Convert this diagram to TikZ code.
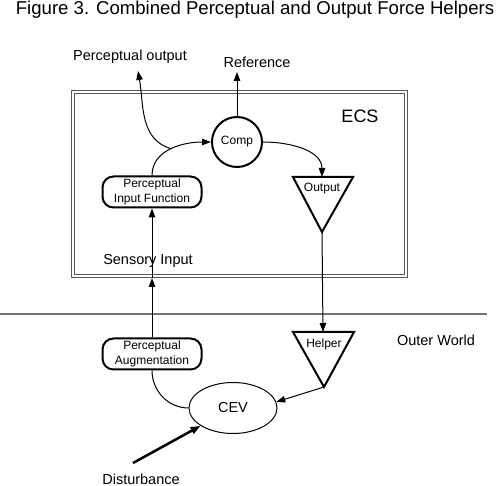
\documentclass[tikz,border=0pt]{standalone}
\usepackage{fontspec}
\setmainfont{Liberation Sans}
\usetikzlibrary{arrows.meta, shapes.geometric}

\tikzset{
  lbl/.style={font=\fontsize{14.5}{16}\selectfont, inner sep=0pt},
  small/.style={font=\fontsize{12}{14.5}\selectfont, align=center, inner sep=0pt},
  pbox/.style={draw, line width=2pt, rounded corners=11pt, minimum width=99pt,
    minimum height=31pt, align=center, font=\fontsize{12}{14.5}\selectfont, inner sep=0pt},
  link/.style={line width=1pt, -{Triangle[length=9pt,width=6.5pt]}},
  plain/.style={line width=1pt},
  tri/.style={line width=2pt, line join=miter}
}

\begin{document}
\begin{tikzpicture}[x=1pt, y=-1pt]
          \useasboundingbox (0,0) rectangle (496,486);

          % Title
          \node[font=\fontsize{18.6}{20}\selectfont, inner sep=0pt] (title) at (255,10)
            {Figure 3. Combined Perceptual and Output Force Helpers};

          % ECS box and the world line
          \draw[black!65, line width=1pt, double, double distance=2.5pt] (73,92) rectangle (406,276);
          \node[font=\fontsize{18}{20}\selectfont, inner sep=0pt] (ecs) at (360,116) {ECS};
          \draw[black!55, line width=2pt] (0,314) -- (487,314);
          \node[lbl] (world) at (436,340) {Outer World};

          % Comparator, input function, output
          \node[circle, draw, line width=2pt, minimum size=50pt, small] (comp) at (237,142) {Comp};
          \node[pbox] (pif) at (152,192) {Perceptual\\Input Function};
          \draw[tri] (293,177) -- (353,177) -- (322,232) -- cycle;
          \coordinate (outtop) at (322,177);
          \coordinate (outtip) at (322,232);
          \node[small] (outlbl) at (322,189) {Output};

          % Outer world parts
          \node[pbox] (paug) at (152,354) {Perceptual\\Augmentation};
          \draw[tri] (293,332) -- (354,332) -- (324,387) -- cycle;
          \coordinate (helptop) at (323,332);
          \coordinate (helptip) at (324,387);
          \node[small] (helplbl) at (324,344) {Helper};
          \node[ellipse, draw, line width=1pt, minimum width=88pt, minimum height=51pt,
            font=\fontsize{14.5}{16}\selectfont] (cev) at (233,408) {CEV};

          % Labels outside
          \node[lbl] (ref) at (257,62) {Reference};
          \node[lbl] (pout) at (130,57) {Perceptual output};
          \node[lbl] (sens) at (148,261) {Sensory Input};
          \node[lbl] (dist) at (141,479) {Disturbance};
          \coordinate (refend) at (237,72);
          \coordinate (poutend) at (138,71);
          \coordinate (boxin) at (152,278);
          \coordinate (dstart) at (133,463);

          % Connectors
          \draw[link] (pif.north) to[out=90, in=180] coordinate[pos=0.5] (branch) (comp.west);
          \draw[link] (branch) to[out=165, in=-80] (poutend);
          \draw[link] (comp.north) -- (refend);
          \draw[link] (comp.east) to[out=0, in=90] (outtop);
          \draw[link] (outtip) -- (helptop);
          \draw[link] (helptip) -- (cev.8);
          \draw[link] (paug.north) -- (boxin);
          \draw[link] (boxin) -- (pif.south);
          \draw[plain] (paug.south) to[out=-90, in=180] (cev.west);
          \draw[line width=2.5pt, -{Triangle[length=10pt,width=7pt]}] (dstart) -- (cev);

        \end{tikzpicture}
\end{document}
